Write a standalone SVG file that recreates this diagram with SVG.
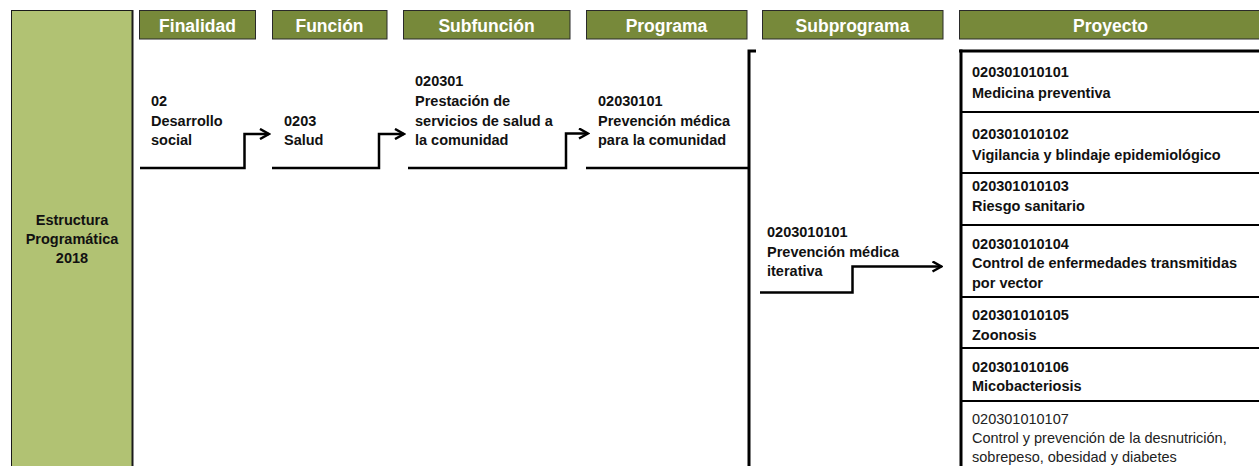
<svg xmlns="http://www.w3.org/2000/svg" width="1259" height="466" viewBox="0 0 1259 466">
<style>
.hdr{fill:#77893A;stroke:#2a2a2a;stroke-width:1}
.hdt{font-family:"Liberation Sans",Arial,sans-serif;font-weight:bold;font-size:17.5px;fill:#ffffff;text-anchor:middle}
.t{font-family:"Liberation Sans",Arial,sans-serif;font-weight:bold;font-size:14.5px;fill:#111111}
.tn{font-family:"Liberation Sans",Arial,sans-serif;font-weight:normal;font-size:14.5px;fill:#222222}
.c{fill:none;stroke:#000;stroke-width:2.5}
.b{fill:none;stroke:#000;stroke-width:3}
.s{fill:none;stroke:#000;stroke-width:2}
</style>
<defs>
<marker id="arr" viewBox="0 0 12 12" refX="10.5" refY="6" markerWidth="12" markerHeight="12" markerUnits="userSpaceOnUse" orient="auto">
<path d="M1.5,1 L10.5,6 L1.5,11" fill="none" stroke="#000" stroke-width="2.5"/>
</marker>
</defs>
<rect width="1259" height="466" fill="#ffffff"/>

<g id="estructura">
<rect x="11.5" y="10.5" width="121" height="470" fill="#B1C273" stroke="#1a1a1a" stroke-width="1"/>
<line x1="132.5" y1="10" x2="132.5" y2="466" stroke="#1a1a1a" stroke-width="2"/>
<text class="t" text-anchor="middle" x="72" y="225">Estructura</text>
<text class="t" text-anchor="middle" x="72" y="244">Programática</text>
<text class="t" text-anchor="middle" x="72" y="263">2018</text>
</g>

<g id="headers">
<rect class="hdr" x="139.5" y="10.5" width="116" height="28.5"/>
<text class="hdt" x="197.5" y="32">Finalidad</text>
<rect class="hdr" x="272.5" y="10.5" width="114.5" height="28.5"/>
<text class="hdt" x="329.5" y="32">Función</text>
<rect class="hdr" x="403.5" y="10.5" width="166.5" height="28.5"/>
<text class="hdt" x="486.5" y="32">Subfunción</text>
<rect class="hdr" x="586.5" y="10.5" width="160.5" height="28.5"/>
<text class="hdt" x="666.5" y="32">Programa</text>
<rect class="hdr" x="762.5" y="10.5" width="180.5" height="28.5"/>
<text class="hdt" x="852.5" y="32">Subprograma</text>
<rect class="hdr" x="959.5" y="10.5" width="305" height="28.5"/>
<text class="hdt" x="1110.5" y="32">Proyecto</text>
</g>

<g id="finalidad">
<text class="t" x="151" y="106">02</text>
<text class="t" x="151" y="125.5">Desarrollo</text>
<text class="t" x="151" y="145">social</text>
</g>

<g id="funcion">
<text class="t" x="284" y="125.5">0203</text>
<text class="t" x="284" y="145">Salud</text>
</g>

<g id="subfuncion">
<text class="t" x="415" y="86">020301</text>
<text class="t" x="415" y="106">Prestación de</text>
<text class="t" x="415" y="125.5">servicios de salud a</text>
<text class="t" x="415" y="145">la comunidad</text>
</g>

<g id="programa">
<text class="t" x="598" y="106">02030101</text>
<text class="t" x="598" y="125.5">Prevención médica</text>
<text class="t" x="598" y="145">para la comunidad</text>
</g>

<g id="subprograma">
<text class="t" x="767" y="237">0203010101</text>
<text class="t" x="767" y="256.5">Prevención médica</text>
<text class="t" x="767" y="275.5">iterativa</text>
</g>

<g id="proyectos">
<line class="b" x1="959" y1="51" x2="1262" y2="51"/>
<line class="b" x1="961" y1="49.5" x2="961" y2="466"/>
<line class="s" x1="961" y1="112" x2="1262" y2="112"/>
<line class="s" x1="961" y1="173" x2="1262" y2="173"/>
<line class="s" x1="961" y1="225" x2="1262" y2="225"/>
<line class="s" x1="961" y1="297" x2="1262" y2="297"/>
<line class="s" x1="961" y1="348" x2="1262" y2="348"/>
<line class="s" x1="961" y1="401" x2="1262" y2="401"/>
</g>

<g id="proyecto1">
<text class="t" x="972" y="77">020301010101</text>
<text class="t" x="972" y="98">Medicina preventiva</text>
</g>
<g id="proyecto2">
<text class="t" x="972" y="138.5">020301010102</text>
<text class="t" x="972" y="159.5">Vigilancia y blindaje epidemiológico</text>
</g>
<g id="proyecto3">
<text class="t" x="972" y="190.5">020301010103</text>
<text class="t" x="972" y="211">Riesgo sanitario</text>
</g>
<g id="proyecto4">
<text class="t" x="972" y="248.5">020301010104</text>
<text class="t" x="972" y="268">Control de enfermedades transmitidas</text>
<text class="t" x="972" y="287.5">por vector</text>
</g>
<g id="proyecto5">
<text class="t" x="972" y="319.5">020301010105</text>
<text class="t" x="972" y="339.5">Zoonosis</text>
</g>
<g id="proyecto6">
<text class="t" x="972" y="371.5">020301010106</text>
<text class="t" x="972" y="391">Micobacteriosis</text>
</g>
<g id="proyecto7">
<text class="tn" x="972" y="423.5">020301010107</text>
<text class="tn" x="972" y="442.5">Control y prevención de la desnutrición,</text>
<text class="tn" x="972" y="461.5">sobrepeso, obesidad y diabetes</text>
</g>

<g id="connectors">
<polyline class="c" points="140,168 244.5,168 244.5,134 269,134" marker-end="url(#arr)"/>
<polyline class="c" points="272,168 379,168 379,134 404,134" marker-end="url(#arr)"/>
<polyline class="c" points="408,168 566,168 566,133.5 588,133.5" marker-end="url(#arr)"/>
<line class="c" x1="586" y1="168" x2="749" y2="168"/>
<polyline class="b" points="756,51 749,51 749,466"/>
<polyline class="c" points="760,292.5 852.5,292.5 852.5,266.5 941.5,266.5" marker-end="url(#arr)"/>
</g>
</svg>
